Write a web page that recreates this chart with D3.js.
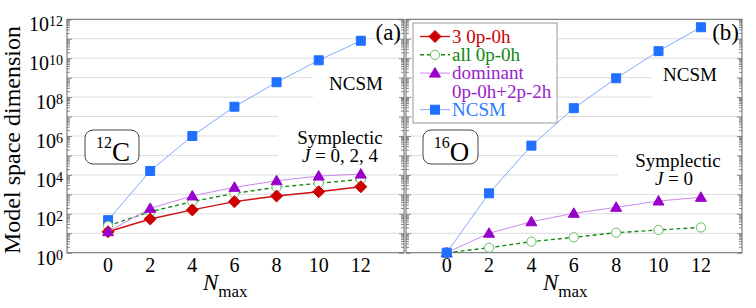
<!DOCTYPE html>
<html>
<head>
<meta charset="utf-8">
<script src="https://d3js.org/d3.v7.min.js"></script>
<style>
body { margin: 0; background: #fff; }
svg { font-family: "Liberation Serif", "Times New Roman", serif; }
</style>
</head>
<body>
<div id="chart"></div>
<script>

// x values (N_max)
var nmax = [0, 2, 4, 6, 8, 10, 12];
var xTickVals = [0, 2, 4, 6, 8, 10, 12];
var yTickExps = [0, 2, 4, 6, 8, 10, 12];

// 12C model space dimensions
var c12Ncsm  = [47, 1.6e4, 1.0e6, 3.2e7, 5.8e8, 7.8e9, 7.9e10];
var c12Three = [12, 54, 158, 420, 820, 1370, 2470];
var c12All   = [24, 128, 420, 1130, 2300, 3700, 5900];
var c12Dom   = [12, 190, 830, 2300, 5000, 8700, 11000];

// 16O model space dimensions
var o16Ncsm = [1, 1130, 3.2e5, 2.7e7, 9.3e8, 2.3e10, 3.9e11];
var o16All  = [1, 1.8, 3.7, 6.2, 10.7, 14.7, 20];
var o16Dom  = [1, 10, 39, 106, 215, 455, 705];

var width = 756, height = 308;

var svg = d3.select("#chart").append("svg")
  .attr("width", width)
  .attr("height", height);

var y = d3.scaleLog().domain([1, 1e12]).range([252.7, 19.3]);

// marker shapes
var shapes = {
  diamond: "M0,-6L6,0L0,6L-6,0Z",
  triangle: "M0,-5.5L5.5,4L-5.5,4Z",
  square: "M-4.5,-4.5h9v9h-9Z",
  circle: d3.symbol(d3.symbolCircle, Math.PI * 4.6 * 4.6)()
};

var styles = {
  three: {line: "#cc1111", lw: 1.4, dash: null, shape: "diamond", fill: "#cc0000", stroke: "#cc0000", text: "#cc0000"},
  all:   {line: "#1a8a1a", lw: 1.4, dash: "4,3", shape: "circle", fill: "#fff", stroke: "#66bb66", text: "#118811"},
  dom:   {line: "#cc88ee", lw: 1, dash: null, shape: "triangle", fill: "#9900cc", stroke: "#9900cc", text: "#9922cc"},
  ncsm:  {line: "#80aaff", lw: 1, dash: null, shape: "square", fill: "#2070ff", stroke: "#2070ff", text: "#2a7bff"}
};

// ticks for the log axes: major at decades, minor 2..9
var majorTicks = d3.range(0, 13).map(function(e) { return Math.pow(10, e); });
var minorTicks = [];
d3.range(0, 12).forEach(function(e) {
  d3.range(2, 10).forEach(function(k) { minorTicks.push(k * Math.pow(10, e)); });
});

function drawPanel(p) {
  var x = d3.scaleLinear().domain(p.xDomain).range([p.x0, p.x1]);
  var g = svg.append("g");

  // grid
  g.selectAll(".grid").data(majorTicks.slice(1, 12)).enter().append("line")
    .attr("x1", p.x0).attr("x2", p.x1)
    .attr("y1", function(d) { return y(d); })
    .attr("y2", function(d) { return y(d); })
    .attr("stroke", "#dcdcdc").attr("stroke-width", 1);

  // white boxes behind labels
  p.boxes.forEach(function(b) {
    g.append("rect").attr("x", b[0]).attr("y", b[1]).attr("width", b[2]).attr("height", b[3])
      .attr("fill", "#fff");
  });

  // inner ticks on both sides
  [[d3.axisRight, p.x0], [d3.axisLeft, p.x1]].forEach(function(a) {
    var minor = g.append("g").attr("transform", "translate(" + a[1] + ",0)")
      .call(a[0](y).tickValues(minorTicks).tickSize(3).tickSizeOuter(0).tickFormat(""));
    var major = g.append("g").attr("transform", "translate(" + a[1] + ",0)")
      .call(a[0](y).tickValues(majorTicks).tickSize(5).tickSizeOuter(0).tickFormat(""));
    [minor, major].forEach(function(s) {
      s.select(".domain").remove();
      s.selectAll("line").attr("stroke", "#8a8a8a");
    });
  });

  // frame
  g.append("rect")
    .attr("x", p.x0).attr("y", y(1e12))
    .attr("width", p.x1 - p.x0).attr("height", y(1) - y(1e12))
    .attr("fill", "none").attr("stroke", "#666").attr("stroke-width", 1);

  // x tick labels
  g.selectAll(".xt").data(xTickVals).enter().append("text")
    .attr("x", function(d) { return x(d); })
    .attr("y", 272)
    .attr("text-anchor", "middle")
    .attr("font-size", 20)
    .text(function(d) { return d; });

  // x title
  var xt = g.append("text").attr("x", p.titleX).attr("y", 290);
  xt.append("tspan").attr("font-style", "italic").attr("font-size", 23).text("N");
  xt.append("tspan").attr("font-size", 17).attr("dy", 6.5).text("max");

  // series
  p.series.forEach(function(s) {
    var st = styles[s.key];
    var pts = nmax.map(function(n, i) { return [x(n), y(s.values[i])]; });
    g.append("path")
      .attr("d", d3.line()(pts))
      .attr("fill", "none")
      .attr("stroke", st.line)
      .attr("stroke-width", st.lw)
      .attr("stroke-dasharray", st.dash);
    g.selectAll(null).data(pts).enter().append("path")
      .attr("d", shapes[st.shape])
      .attr("transform", function(d) { return "translate(" + d[0] + "," + d[1] + ")"; })
      .attr("fill", st.fill)
      .attr("stroke", st.stroke)
      .attr("stroke-width", 1);
  });

  // panel tag
  g.append("text").attr("x", p.x1 - 3).attr("y", 40)
    .attr("text-anchor", "end").attr("font-size", 23).text(p.tag);

  // nucleus box
  var nb = p.nucleus;
  g.append("rect").attr("x", nb.x).attr("y", 130).attr("width", nb.w).attr("height", 34)
    .attr("rx", 8).attr("fill", "#fff").attr("stroke", "#444").attr("stroke-width", 1);
  var nt = g.append("text").attr("x", nb.x + nb.w / 2 + 1).attr("y", 161)
    .attr("text-anchor", "middle");
  nt.append("tspan").attr("font-size", 16).attr("dy", -13).text(nb.mass);
  nt.append("tspan").attr("font-size", 27).attr("dy", 13).text(nb.sym);

  // annotations
  p.notes.forEach(function(n) {
    var t = g.append("text").attr("x", n.x).attr("y", n.y)
      .attr("text-anchor", "middle").attr("font-size", 19);
    if (n.j) {
      t.append("tspan").attr("font-style", "italic").text("J");
      t.append("tspan").text(" = " + n.text);
    } else {
      t.text(n.text);
    }
  });
}

drawPanel({
  x0: 67, x1: 404, xDomain: [-1.95, 14.05], tag: "(a)", titleX: 203,
  boxes: [[313, 64, 88, 40], [278, 112, 123, 55]],
  nucleus: {x: 85, w: 54, mass: "12", sym: "C"},
  notes: [
    {x: 356, y: 90, text: "NCSM"},
    {x: 340, y: 144, text: "Symplectic"},
    {x: 340, y: 162, text: "0, 2, 4", j: true}
  ],
  series: [
    {key: "ncsm", values: c12Ncsm},
    {key: "all", values: c12All},
    {key: "three", values: c12Three},
    {key: "dom", values: c12Dom}
  ]
});

drawPanel({
  x0: 406, x1: 742, xDomain: [-1.92, 13.94], tag: "(b)", titleX: 543,
  boxes: [[652, 62, 85, 38], [618, 148, 119, 44]],
  nucleus: {x: 423, w: 55, mass: "16", sym: "O"},
  notes: [
    {x: 690, y: 81, text: "NCSM"},
    {x: 678, y: 167, text: "Symplectic"},
    {x: 674, y: 185, text: "0", j: true}
  ],
  series: [
    {key: "all", values: o16All},
    {key: "dom", values: o16Dom},
    {key: "ncsm", values: o16Ncsm}
  ]
});

// y tick labels (left panel only)
yTickExps.forEach(function(e) {
  var t = svg.append("text")
    .attr("x", 63).attr("y", y(Math.pow(10, e)) + 12)
    .attr("text-anchor", "end").attr("font-size", 20);
  t.append("tspan").text("10");
  t.append("tspan").attr("font-size", 14).attr("dy", -5).text(e);
});

// y title
svg.append("text")
  .attr("transform", "translate(20,140) rotate(-90)")
  .attr("text-anchor", "middle")
  .attr("font-size", 24)
  .text("Model space dimension");

// legend
var legendItems = [
  {key: "three", label: ["3 0p-0h"]},
  {key: "all", label: ["all 0p-0h"]},
  {key: "dom", label: ["dominant", "0p-0h+2p-2h"]},
  {key: "ncsm", label: ["NCSM"]}
];
var lg = svg.append("g");
lg.append("rect").attr("x", 413).attr("y", 23).attr("width", 144).attr("height", 100)
  .attr("fill", "#fff").attr("stroke", "#999").attr("stroke-width", 1);
var row = 0;
legendItems.forEach(function(item) {
  var st = styles[item.key];
  var cy = 36.5 + row * 18.3;
  lg.append("line").attr("x1", 420).attr("x2", 450).attr("y1", cy).attr("y2", cy)
    .attr("stroke", st.line).attr("stroke-width", st.lw).attr("stroke-dasharray", st.dash);
  lg.append("path").attr("d", shapes[st.shape])
    .attr("transform", "translate(435," + cy + ")")
    .attr("fill", st.fill).attr("stroke", st.stroke);
  item.label.forEach(function(l) {
    lg.append("text").attr("x", 452).attr("y", 42.7 + row * 18.3)
      .attr("font-size", 19).attr("fill", st.text).text(l);
    row++;
  });
});

</script>
</body>
</html>
